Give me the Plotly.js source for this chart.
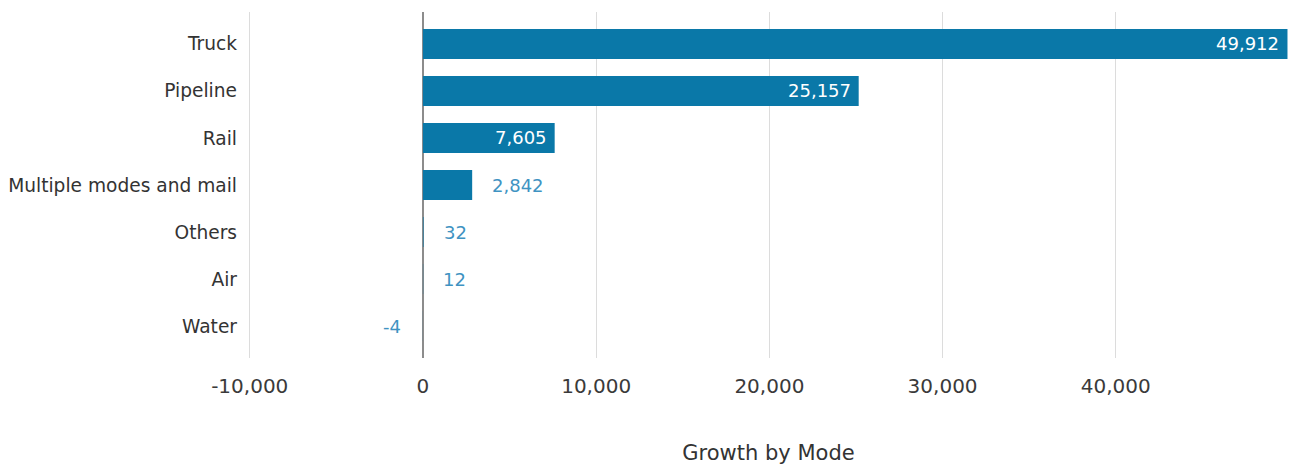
<!DOCTYPE html>
<html>
<head>
<meta charset="utf-8">
<script src="https://cdn.plot.ly/plotly-3.0.1.min.js"></script>
<style>html,body{margin:0;padding:0;background:#fff;}#chart{width:1293px;height:468px;}</style>
</head>
<body>
<div id="chart"></div>
<script>
const categories = ["Truck", "Pipeline", "Rail", "Multiple modes and mail", "Others", "Air", "Water"];
const growth = [49912, 25157, 7605, 2842, 32, 12, -4];
const labelInside = [true, true, true, false, false, false, false];
const tickValues = [-10000, 0, 10000, 20000, 30000, 40000];
const tickLabels = ["-10,000", "0", "10,000", "20,000", "30,000", "40,000"];

const FONT = "'DejaVu Sans', Roboto, sans-serif";
const barColor = "#0a78a8";
const outsideColor = "#3f93c2";

const trace = {
  type: "bar",
  orientation: "h",
  y: categories,
  x: growth,
  textposition: "none",
  marker: {color: barColor},
  hoverinfo: "none"
};

const annotations = growth.map((v, i) => {
  const txt = v.toLocaleString("en-US");
  if (labelInside[i]) {
    return {x: v, y: categories[i], xref: "x", yref: "y", text: txt, showarrow: false,
            xanchor: "right", xshift: -6, font: {family: FONT, size: 18, color: "#ffffff"}};
  }
  return {x: v, y: categories[i], xref: "x", yref: "y", text: txt, showarrow: false,
          xanchor: v < 0 ? "right" : "left", xshift: v < 0 ? -20 : 18,
          font: {family: FONT, size: 18, color: outsideColor}};
});

const layout = {
  width: 1293,
  height: 468,
  margin: {l: 248, r: 4, t: 12, b: 110},
  paper_bgcolor: "#ffffff",
  plot_bgcolor: "#ffffff",
  bargap: 0.36,
  showlegend: false,
  font: {family: FONT, size: 18, color: "#333333"},
  annotations: annotations,
  xaxis: {
    range: [-10100, 50000],
    tickvals: tickValues,
    ticktext: tickLabels,
    showgrid: true,
    gridcolor: "#dcdcdc",
    gridwidth: 1,
    zeroline: true,
    zerolinecolor: "#8c8c8c",
    zerolinewidth: 2,
    showline: false,
    ticks: "",
    ticklabelstandoff: 14,
    tickfont: {family: FONT, size: 20, color: "#3a3a3a"},
    title: {text: "Growth by Mode", font: {family: FONT, size: 21, color: "#333333"}, standoff: 48},
    fixedrange: true
  },
  yaxis: {
    type: "category",
    range: [6.68, -0.68],
    showgrid: false,
    zeroline: false,
    showline: false,
    ticks: "",
    ticklabelstandoff: 10,
    tickfont: {family: FONT, size: 18.6, color: "#333333"},
    fixedrange: true
  }
};

Plotly.newPlot("chart", [trace], layout, {displayModeBar: false, staticPlot: true});
</script>
</body>
</html>
